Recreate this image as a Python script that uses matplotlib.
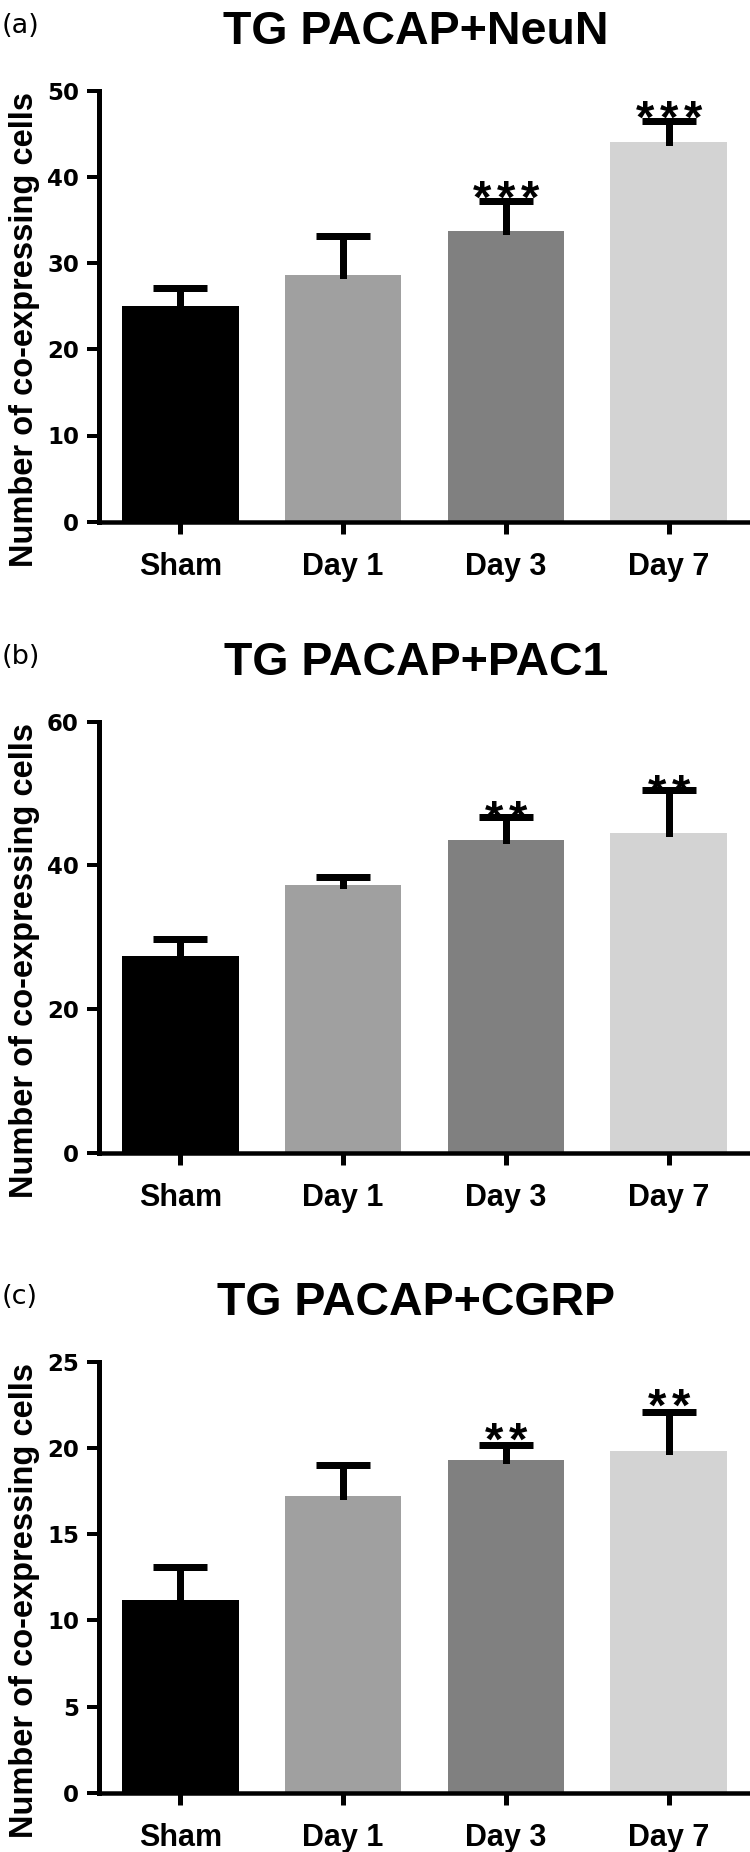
import matplotlib
matplotlib.use('Agg')
import matplotlib.pyplot as plt
from matplotlib.transforms import ScaledTranslation
import numpy as np

# ---------------- data ----------------
categories = ['Sham', 'Day 1', 'Day 3', 'Day 7']
bar_colors = ['#000000', '#a0a0a0', '#808080', '#d3d3d3']

titles = ['TG PACAP+NeuN', 'TG PACAP+PAC1', 'TG PACAP+CGRP']
panel_letters = ['(a)', '(b)', '(c)']
ylabel_text = 'Number of co-expressing cells'

neun_mean = [25.0, 28.6, 33.7, 44.0]
neun_sem = [2.1, 4.6, 3.5, 2.5]
neun_sig = ['', '', '***', '***']
neun_ticks = [0, 10, 20, 30, 40, 50]

pac1_mean = [27.4, 37.2, 43.6, 44.5]
pac1_sem = [2.4, 1.2, 3.2, 6.0]
pac1_sig = ['', '', '**', '**']
pac1_ticks = [0, 20, 40, 60]

cgrp_mean = [11.2, 17.2, 19.3, 19.8]
cgrp_sem = [1.9, 1.8, 0.85, 2.3]
cgrp_sig = ['', '', '**', '**']
cgrp_ticks = [0, 5, 10, 15, 20, 25]

# ---------------- layout ----------------
W, H = 750, 1852
DPI = 100
fig = plt.figure(figsize=(W / DPI, H / DPI), dpi=DPI)
fig.patch.set_facecolor('white')

axes_top_px = [90.7, 721.7, 1361.7]
axes_h_px = 431.0
axes_left_px = 99.0
star_rel_px = [2.0, -3.0, 4.0]   # star bottom relative to cap top
star_size = 34
star_bottom_em = 0.36
star_step_px = 24.0

panels = [
    (titles[0], panel_letters[0], neun_mean, neun_sem, neun_sig, neun_ticks),
    (titles[1], panel_letters[1], pac1_mean, pac1_sem, pac1_sig, pac1_ticks),
    (titles[2], panel_letters[2], cgrp_mean, cgrp_sem, cgrp_sig, cgrp_ticks),
]

px = 72.0 / DPI  # points per pixel

for k, (title, letter, means, sems, sigs, ticks) in enumerate(panels):
    top = axes_top_px[k]
    bottom = top + axes_h_px
    ax = fig.add_axes([axes_left_px / W, 1 - bottom / H,
                       (W - axes_left_px) / W, axes_h_px / H])
    x = list(range(len(categories)))
    ax.bar(x, means, width=0.715, color=bar_colors, edgecolor='none', zorder=2)
    eb = ax.errorbar(x, means, yerr=[[0] * len(sems), sems], fmt='none',
                     ecolor='black', elinewidth=7 * px, capsize=27 * px,
                     capthick=7 * px, zorder=3)
    for lc in eb[2]:
        lc.set_capstyle('projecting')
    for cap in eb[1]:
        if np.allclose(cap.get_ydata(), means):
            cap.set_visible(False)

    ax.set_xlim(-0.5, 3.5)
    ax.set_ylim(ticks[0], ticks[-1])
    ax.set_yticks(ticks)
    ax.set_xticks(x)
    ax.set_xticklabels(categories, fontfamily='Liberation Sans',
                       fontweight='bold', fontsize=22)
    for lab in ax.get_yticklabels():
        lab.set_fontfamily('DejaVu Sans')
        lab.set_fontweight('bold')
        lab.set_fontsize(16.5)
        lab.set_transform(lab.get_transform() +
                          ScaledTranslation(0, -5 / DPI, fig.dpi_scale_trans))

    for side in ['top', 'right']:
        ax.spines[side].set_visible(False)
    ax.spines['left'].set_linewidth(5 * px)
    ax.spines['bottom'].set_linewidth(4.5 * px)
    ax.spines['left'].set_capstyle('projecting')
    ax.tick_params(axis='y', length=12 * px, width=4 * px, pad=8 * px,
                   colors='black')
    ax.tick_params(axis='x', length=12 * px, width=5 * px, pad=18 * px,
                   colors='black')

    ax.set_ylabel(ylabel_text, fontfamily='Liberation Sans',
                  fontweight='bold', fontsize=23.5)
    ax.yaxis.set_label_coords((40 - axes_left_px) / (W - axes_left_px),
                              0.5 - 23 / axes_h_px)

    for i, s in enumerate(sigs):
        n = len(s)
        if n == 0:
            continue
        off = 3.5 + star_rel_px[k] - star_bottom_em * star_size / px
        for j in range(n):
            dx = (j - (n - 1) / 2) * star_step_px
            ax.annotate('*', xy=(x[i], means[i] + sems[i]),
                        xytext=(dx * px, off * px), textcoords='offset points',
                        ha='center', va='baseline',
                        fontfamily='Liberation Sans', fontweight='bold',
                        fontsize=star_size, zorder=4)

    fig.text(416 / W, 1 - (top - 46.5) / H, title, ha='center',
             va='baseline', fontfamily='Liberation Sans',
             fontweight='bold', fontsize=33.5)
    fig.text(2 / W, 1 - (top - 58) / H, letter, ha='left', va='baseline',
             fontfamily='DejaVu Sans', fontsize=19.5)

fig.savefig('out.png', dpi=DPI, facecolor='white')
